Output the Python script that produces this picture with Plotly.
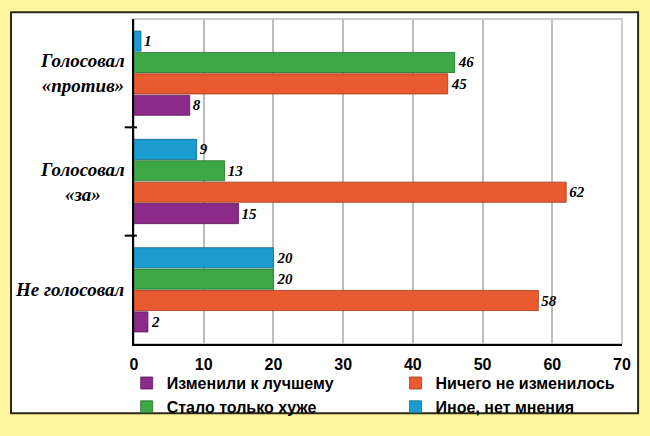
import plotly.graph_objects as go

categories = ['Не голосовал', 'Голосовал «за»', 'Голосовал «против»']
cat_labels = ['Не голосовал', 'Голосовал<br>«за»', 'Голосовал<br>«против»']

better = [2, 15, 8]        # Изменили к лучшему
nothing = [58, 62, 45]     # Ничего не изменилось
worse = [20, 13, 46]       # Стало только хуже
other = [20, 9, 1]         # Иное, нет мнения

series = [
    ('Изменили к лучшему', better, '#8B2A89', '#5e1a5c', 'legend'),
    ('Ничего не изменилось', nothing, '#E95A31', '#9c3a1c', 'legend2'),
    ('Стало только хуже', worse, '#3EA846', '#236e29', 'legend'),
    ('Иное, нет мнения', other, '#1B9CCF', '#12688a', 'legend2'),
]

serif_val = dict(family='Liberation Serif', size=15, color='black', weight='bold', style='italic')
serif_cat = dict(family='Liberation Serif', size=19, color='black', weight='bold', style='italic')
sans = dict(family='Liberation Sans', size=16, color='black', weight='bold')

fig = go.Figure()
for name, vals, col, edge, leg in series:
    fig.add_trace(go.Bar(
        y=categories, x=vals, name=name, orientation='h', legend=leg,
        marker=dict(color=col, line=dict(color=edge, width=0.8)),
        text=vals, textposition='outside', textfont=serif_val,
        cliponaxis=False,
    ))

# category labels, lines centred on each other
annotations = [dict(x=0, xref='paper', y=cat, yref='y', text=lab, align='center',
                    xanchor='right', xshift=-7, showarrow=False, font=serif_cat)
               for cat, lab in zip(categories, cat_labels)]

shapes = [
    dict(type='rect', xref='paper', yref='paper', x0=-0.252, x1=1.033, y0=-0.213, y1=1.021,
         fillcolor='white', line=dict(color='#2b2814', width=2), layer='below'),
    dict(type='rect', xref='paper', yref='paper', x0=0, x1=1, y0=0, y1=1,
         line=dict(color='#BDBDBD', width=1.5), layer='below'),
]
# group separator ticks on the y axis
for i in range(1, len(categories)):
    shapes.append(dict(type='line', xref='paper', yref='y', x0=-0.019, x1=0.006,
                       y0=i - 0.5, y1=i - 0.5, line=dict(color='black', width=2)))

legend_common = dict(orientation='v', xanchor='left', yanchor='top', traceorder='normal',
                     font=sans, bgcolor='rgba(0,0,0,0)', borderwidth=0)

fig.update_layout(
    width=650, height=436,
    paper_bgcolor='#FFF59C', plot_bgcolor='white',
    margin=dict(l=134, r=28, t=19, b=84),
    barmode='group', bargap=0.21, bargroupgap=0.06,
    showlegend=True,
    legend=dict(x=-0.015, y=-0.068, **legend_common),
    legend2=dict(x=0.536, y=-0.068, **legend_common),
    shapes=shapes,
    annotations=annotations,
)
fig.update_xaxes(range=[0, 70], dtick=10, showgrid=True, gridcolor='#BDBDBD', gridwidth=1.5,
                 showline=True, linecolor='black', linewidth=2, ticks='', zeroline=False,
                 tickfont=sans, ticklabelstandoff=5, automargin=False)
fig.update_yaxes(categoryorder='array', categoryarray=categories,
                 showline=True, linecolor='black', linewidth=2,
                 ticks='', showticklabels=False, showgrid=False, automargin=False)

fig.write_html("out.html", config={'displayModeBar': False},
               post_script="document.body.style.margin='0';")
